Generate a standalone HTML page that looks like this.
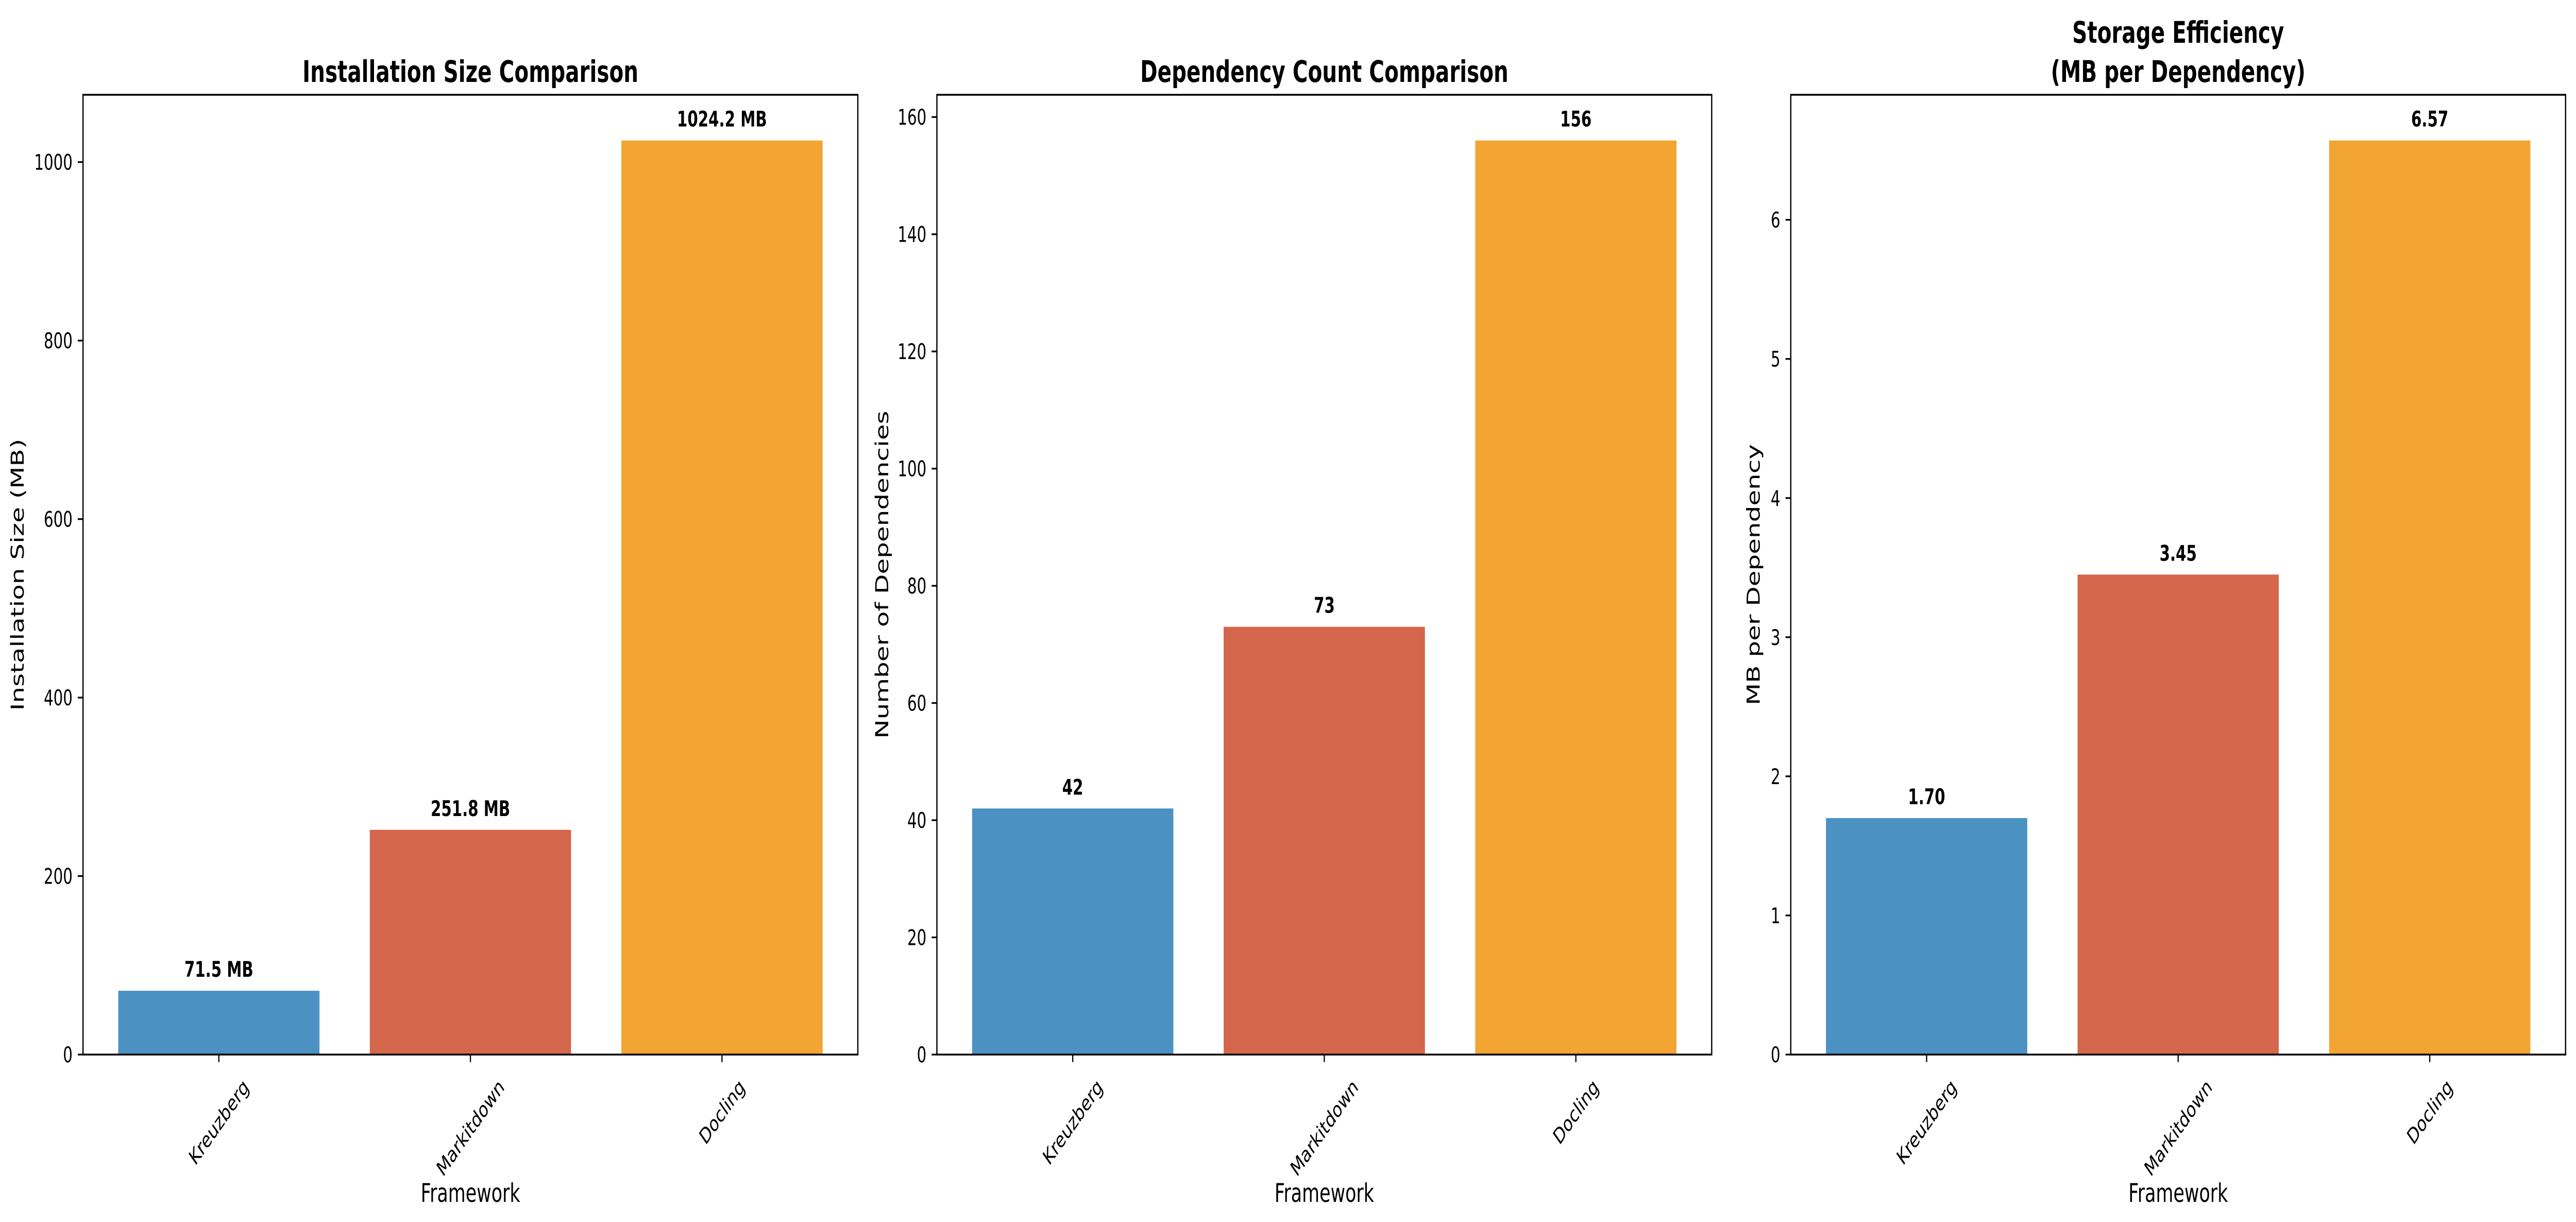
<!DOCTYPE html>
<html><head><meta charset="utf-8"><style>
html,body{margin:0;padding:0;background:#fff;overflow:hidden;width:100%;height:100%;}
svg{display:block;width:100vw;height:100vh;font-family:"DejaVu Sans","Liberation Sans",sans-serif;}
</style></head><body>
<svg id="fig" viewBox="0 0 7168 2372" preserveAspectRatio="none" xmlns="http://www.w3.org/2000/svg">
<rect width="7168" height="2372" fill="#fff"/>
</svg>
<script>
const categories = ["Kreuzberg", "Markitdown", "Docling"];
const installSizes = [71.5, 251.8, 1024.2];
const depCounts = [42, 73, 156];
const mbPerDep = [1.70, 3.45, 6.57];
const installTicks = [0, 200, 400, 600, 800, 1000];
const depTicks = [0, 20, 40, 60, 80, 100, 120, 140, 160];
const effTicks = [0, 1, 2, 3, 4, 5, 6];
const installLabels = ["71.5 MB", "251.8 MB", "1024.2 MB"];
const depLabels = ["42", "73", "156"];
const effLabels = ["1.70", "3.45", "6.57"];
const barColors = ["#4B92C3", "#D4664C", "#F2A533"];

const NS = "http://www.w3.org/2000/svg";
const svg = document.getElementById("fig");
function mk(tag, attrs, parent) {
  const e = document.createElementNS(NS, tag);
  for (const k in attrs) e.setAttribute(k, attrs[k]);
  (parent || svg).appendChild(e);
  return e;
}

const TOP = 184, BOTTOM = 2047, W = 2156;
const panels = [
  {left: 231, values: installSizes, ticks: installTicks, labels: installLabels, title: ["Installation Size Comparison"], ylabel: "Installation Size (MB)", ylabelX: 50, key: "installation-size"},
  {left: 2607, values: depCounts, ticks: depTicks, labels: depLabels, title: ["Dependency Count Comparison"], ylabel: "Number of Dependencies", ylabelX: 2455, key: "dependency-count"},
  {left: 4983, values: mbPerDep, ticks: effTicks, labels: effLabels, title: ["Storage Efficiency", "(MB per Dependency)"], ylabel: "MB per Dependency", ylabelX: 4880, key: "storage-efficiency"}
];

panels.forEach(p => {
  const g = mk("g", {});
  
  
  const ymax = Math.max(...p.values) * 1.05;
  const yS = v => BOTTOM - v / ymax * (BOTTOM - TOP);
  const unit = W / 3.08;
  const xS = i => p.left + (i + 0.54) * unit;

  p.values.forEach((v, i) => {
    const r = mk("rect", {x: xS(i) - 0.4 * unit, y: yS(v), width: 0.8 * unit, height: BOTTOM - yS(v), fill: barColors[i]}, g);
    
    
    const t = mk("text", {x: xS(i), y: yS(v) - 27, "text-anchor": "middle", "font-size": 42, "font-weight": "bold", fill: "#000"}, g);
    t.textContent = p.labels[i];
    
    
  });

  const fr = mk("rect", {x: p.left, y: TOP, width: W, height: BOTTOM - TOP, fill: "none", stroke: "#000", "stroke-width": 3.5}, g);
  
  

  p.ticks.forEach(v => {
    const y = yS(v);
    mk("line", {x1: p.left - 14.6, x2: p.left, y1: y, y2: y, stroke: "#000", "stroke-width": 3.3}, g);
    const t = mk("text", {x: p.left - 29, y: y + 15, "text-anchor": "end", "font-size": 42, fill: "#000"}, g);
    t.textContent = String(v);
    
    
  });

  categories.forEach((c, i) => {
    const x = xS(i);
    mk("line", {x1: x, x2: x, y1: BOTTOM, y2: BOTTOM + 14.6, stroke: "#000", "stroke-width": 3.3}, g);
    const t = mk("text", {x: x, y: 0, "text-anchor": "middle", "font-size": 42, fill: "#000", "dominant-baseline": "central"}, g);
    t.textContent = c;
    
    
    const w = t.getComputedTextLength();
    const h = 46;
    const cy = 2086 + (w + h) * 0.7071 / 2;
    t.setAttribute("y", cy);
    t.setAttribute("transform", `rotate(-45 ${x} ${cy})`);
  });

  const xl = mk("text", {x: p.left + W / 2, y: 2333, "text-anchor": "middle", "font-size": 50, fill: "#000"}, g);
  xl.textContent = "Framework";
  
  

  const cy = (TOP + BOTTOM) / 2;
  const yl = mk("text", {x: p.ylabelX, y: cy, "text-anchor": "middle", "dominant-baseline": "central", "font-size": 50, fill: "#000", transform: `rotate(-90 ${p.ylabelX} ${cy})`}, g);
  yl.textContent = p.ylabel;
  
  

  const n = p.title.length;
  p.title.forEach((line, k) => {
    const t = mk("text", {x: p.left + W / 2, y: 159 - (n - 1 - k) * 76, "text-anchor": "middle", "font-size": 58, "font-weight": "bold", fill: "#000"}, g);
    t.textContent = line;
    
    
  });
});
</script>
</body></html>
